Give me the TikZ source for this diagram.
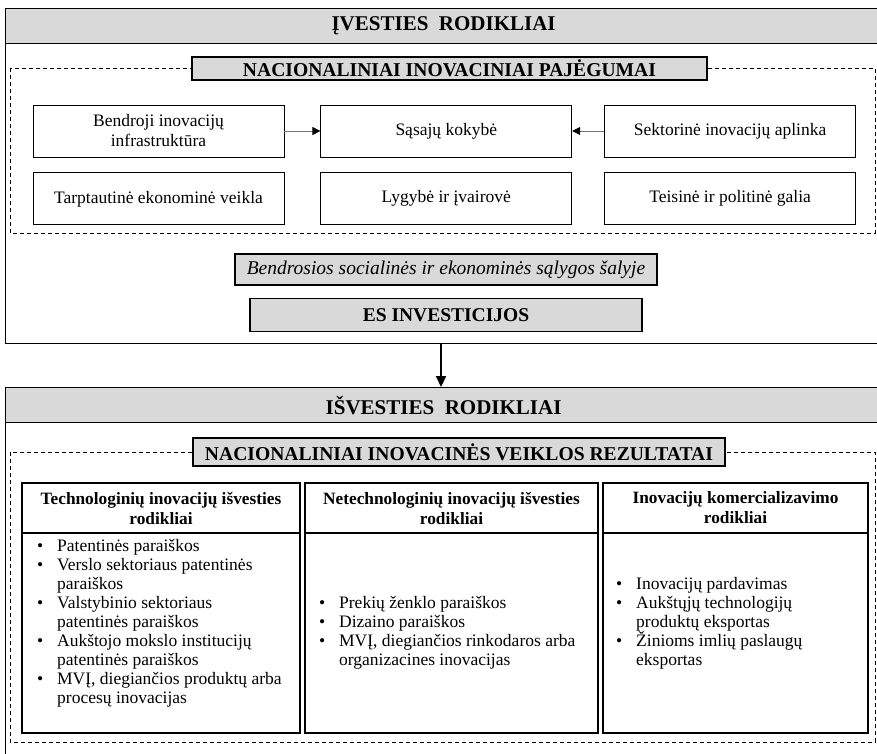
\documentclass[tikz,border=0pt]{standalone}
\usepackage{fontspec}
\setmainfont{Liberation Serif}
\usepackage{tikz}
\usetikzlibrary{arrows.meta, positioning}
\definecolor{bandgray}{RGB}{217,217,217}
\newcommand{\itm}{\makebox[20pt][l]{\textbullet}}
\newcommand{\cnt}{\hspace*{20pt}}

\begin{document}
\begin{tikzpicture}[
	x=1pt, y=-1pt,
	every node/.style={inner sep=0pt, font=\fontsize{17.5}{20}\selectfont},
	frame/.style={draw, line width=1.2pt, anchor=north west, minimum width=876pt},
	band/.style={draw, line width=1.2pt, fill=bandgray, anchor=north west, minimum width=876pt, minimum height=35pt, font=\bfseries\fontsize{21}{24}\selectfont},
	dashbox/.style={draw, line width=0.9pt, dash pattern=on 4pt off 3pt},
	graybox/.style={draw, line width=1.2pt, fill=bandgray, font=\bfseries\fontsize{19.6}{24}\selectfont},
	factor/.style={draw, line width=0.8pt, fill=white, minimum width=251pt, minimum height=52pt, align=center},
	colhead/.style={draw, line width=1.3pt, outer sep=0pt, minimum height=50pt, align=center, font=\bfseries\fontsize{17.3}{20}\selectfont},
	colbody/.style={draw, line width=1.3pt, outer sep=0pt, minimum height=200pt},
	itemlist/.style={anchor=north west, align=left, font=\fontsize{17.5}{19}\selectfont},
	]
	\useasboundingbox (0,0) rectangle (877,754);
	\clip (0,0) rectangle (877,754);
	
	% Input block
	\node[frame, minimum height=335pt] (inputs) at (5,8) {};
	\node[band] (inhead) at (5,8) {ĮVESTIES\ \ RODIKLIAI};
	\draw[dashbox] (10,68) rectangle (875,233);
	\node[graybox, minimum width=515pt, minimum height=23pt] (capacity) at (449.5,68.5) {NACIONALINIAI INOVACINIAI PAJĖGUMAI};
	
	% Capacity factors
	\node[factor] (infra) at (158.5,131) {Bendroji inovacijų\\infrastruktūra};
	\node[factor, right=36pt of infra] (links) {Sąsajų kokybė};
	\node[factor, right=32pt of links] (sector) {Sektorinė inovacijų aplinka};
	\node[factor, below=15pt of infra] (trade) {Tarptautinė ekonominė veikla};
	\node[factor, below=15pt of links] (equality) {Lygybė ir įvairovė};
	\node[factor, below=15pt of sector] (legal) {Teisinė ir politinė galia};
	\draw[black!55, line width=0.8pt, -{Triangle[color=black, length=8pt, width=8pt]}] (infra) -- (links);
	\draw[black!55, line width=0.8pt, -{Triangle[color=black, length=8pt, width=8pt]}] (sector) -- (links);
	
	\node[graybox, minimum width=422pt, minimum height=31pt, font=\itshape\fontsize{19.5}{22}\selectfont] (conditions) at (446,269.5) {Bendrosios socialinės ir ekonominės sąlygos šalyje};
	\node[graybox, minimum width=392pt, minimum height=33pt, below=12pt of conditions, font=\bfseries\fontsize{19.5}{22}\selectfont] (euinv) {ES INVESTICIJOS};
	
	% Output block
	\node[frame, minimum height=400pt] (outputs) at (5,387) {};
	\node[band] (outhead) at (5,387) {IŠVESTIES\ \ RODIKLIAI};
	\coordinate (link) at (441,343);
	\draw[line width=2.2pt, -{Triangle[length=11pt, width=10pt]}] (link) -- (link |- outputs.north);
	
	\draw[dashbox] (10,452) rectangle (875,742);
	\node[graybox, minimum width=532pt, minimum height=28pt] (results) at (459,452) {NACIONALINIAI INOVACINĖS VEIKLOS REZULTATAI};
	
	% Result columns
	\node[colhead, minimum width=278pt, anchor=north west] (techhead) at (22,483) {Technologinių inovacijų išvesties\\rodikliai};
	\node[colbody, minimum width=278pt, below=0pt of techhead] (techbody) {};
	\node[colhead, minimum width=293pt, right=5pt of techhead] (nontechhead) {Netechnologinių inovacijų išvesties\\rodikliai};
	\node[colbody, minimum width=293pt, below=0pt of nontechhead] (nontechbody) {};
	\node[colhead, minimum width=265pt, right=5pt of nontechhead] (commhead) {Inovacijų komercializavimo\\rodikliai};
	\node[colbody, minimum width=265pt, below=0pt of commhead] (commbody) {};
	
	\node[itemlist] (techlist) at ([xshift=15pt, yshift=-6pt]techbody.north west) {%
		\itm Patentinės paraiškos\\
		\itm Verslo sektoriaus patentinės\\
		\cnt paraiškos\\
		\itm Valstybinio sektoriaus\\
		\cnt patentinės paraiškos\\
		\itm Aukštojo mokslo institucijų\\
		\cnt patentinės paraiškos\\
		\itm MVĮ, diegiančios produktų arba\\
		\cnt procesų inovacijas};
	\node[itemlist] (nontechlist) at ([xshift=14pt, yshift=-63pt]nontechbody.north west) {%
		\itm Prekių ženklo paraiškos\\
		\itm Dizaino paraiškos\\
		\itm MVĮ, diegiančios rinkodaros arba\\
		\cnt organizacines inovacijas};
	\node[itemlist] (commlist) at ([xshift=13pt, yshift=-44pt]commbody.north west) {%
		\itm Inovacijų pardavimas\\
		\itm Aukštųjų technologijų\\
		\cnt produktų eksportas\\
		\itm Žinioms imlių paslaugų\\
		\cnt eksportas};
	
\end{tikzpicture}
\end{document}
